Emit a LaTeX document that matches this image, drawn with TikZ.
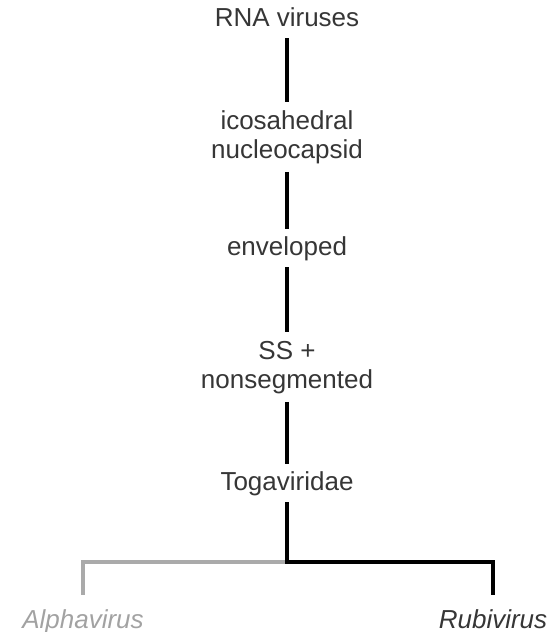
\documentclass[tikz,border=0pt]{standalone}
\usepackage{fontspec}
\setmainfont{Liberation Sans}
\usepackage{xcolor}
\usepackage{tikz}
\usetikzlibrary{positioning}

\definecolor{inkgray}{HTML}{363636}
\definecolor{palegray}{HTML}{AAAAAA}
\definecolor{paletext}{HTML}{A2A2A2}

\begin{document}
\begin{tikzpicture}[x=0.5pt,y=-0.5pt,
  taxon/.style={align=center,font=\fontsize{13}{14.5}\selectfont,text=inkgray,inner xsep=0pt,inner ysep=4pt,anchor=base},
  oneline/.style={taxon,text height=9pt,text depth=2pt},
  leaf/.style={taxon,font=\fontsize{13}{14.5}\selectfont\itshape,text height=9pt,text depth=2pt,inner ysep=7.5pt},
  stem/.style={line width=2pt,black},
  palestem/.style={line width=2pt,palegray}
]
\useasboundingbox (0,0) rectangle (556,632);

\node[oneline] (rna) at (287,26) {RNA viruses};
\node[taxon] (ico) at (287,158) {icosahedral\\nucleocapsid};
\node[oneline] (env) at (287,255) {enveloped};
\node[taxon] (ss) at (287,388) {SS +\\nonsegmented};
\node[oneline] (toga) at (287,490) {Togaviridae};
\node[leaf,text=paletext] (alpha) at (83,628) {Alphavirus};
\node[leaf] (rubi) at (493,628) {Rubivirus};
\coordinate (fork) at (287,562);

\draw[stem] (rna) -- (ico);
\draw[stem] (ico) -- (env);
\draw[stem] (env) -- (ss);
\draw[stem] (ss) -- (toga);
\draw[palestem] (fork) -| (alpha);
\draw[stem] (toga) -- (fork) -| (rubi);
\end{tikzpicture}
\end{document}
